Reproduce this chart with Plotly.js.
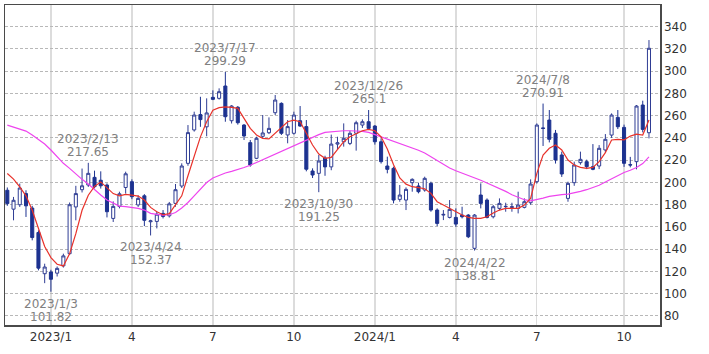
<!DOCTYPE html>
<html>
<head>
<meta charset="utf-8">
<script src="https://cdn.plot.ly/plotly-3.0.1.min.js"></script>
<style>
html,body{margin:0;padding:0;background:#fff;}
#chart{width:709px;height:354px;}
</style>
</head>
<body>
<div id="chart"></div>
<script>
// Weekly candles (week start dates)
const weeks = [
"2022-11-14","2022-11-21","2022-11-28","2022-12-05","2022-12-12","2022-12-19","2022-12-26",
"2023-01-02","2023-01-09","2023-01-16","2023-01-23","2023-01-30","2023-02-06","2023-02-13",
"2023-02-20","2023-02-27","2023-03-06","2023-03-13","2023-03-20","2023-03-27","2023-04-03",
"2023-04-10","2023-04-17","2023-04-24","2023-05-01","2023-05-08","2023-05-15","2023-05-22",
"2023-05-29","2023-06-05","2023-06-12","2023-06-19","2023-06-26","2023-07-03","2023-07-10",
"2023-07-17","2023-07-24","2023-07-31","2023-08-07","2023-08-14","2023-08-21","2023-08-28",
"2023-09-04","2023-09-11","2023-09-18","2023-09-25","2023-10-02","2023-10-09","2023-10-16",
"2023-10-23","2023-10-30","2023-11-06","2023-11-13","2023-11-20","2023-11-27","2023-12-04",
"2023-12-11","2023-12-18","2023-12-25","2024-01-01","2024-01-08","2024-01-15","2024-01-22",
"2024-01-29","2024-02-05","2024-02-12","2024-02-19","2024-02-26","2024-03-04","2024-03-11",
"2024-03-18","2024-03-25","2024-04-01","2024-04-08","2024-04-15","2024-04-22","2024-04-29",
"2024-05-06","2024-05-13","2024-05-20","2024-05-27","2024-06-03","2024-06-10","2024-06-17",
"2024-06-24","2024-07-01","2024-07-08","2024-07-15","2024-07-22","2024-07-29","2024-08-05",
"2024-08-12","2024-08-19","2024-08-26","2024-09-02","2024-09-09","2024-09-16","2024-09-23",
"2024-09-30","2024-10-07","2024-10-14","2024-10-21","2024-10-28","2024-11-04"
];
const openP = [
193,176,180,190,177,155,118,119.5,118.5,125,136,178,193.5,197.7,
204.6,202,197.7,167.7,178.5,195.5,200.7,179.8,188,164.7,165,172.2,170,181.2,
196.8,217.2,247.2,261,250,276.5,275.6,286.7,255.5,267.6,251.6,235.8,221.7,241.5,
244.7,262.7,271.1,242.7,244.2,255.5,250.2,210.3,208.2,222,214,234.5,236.6,235.1,
244.2,251.6,254.6,250.7,236.6,214.8,212.7,184.8,184.2,199.8,196.8,193.2,199.2,175.2,
170.7,168.6,168.6,170.7,170.7,140.8,188.7,184.2,169.2,176.7,178.2,177.5,176.7,177.6,
181.8,200.7,249,256.1,244.2,224.7,185.7,199.8,217.8,218.7,214.2,214.8,229.2,242.6,
258.5,249.5,216,218.7,269.6,244.7
];
const highP = [
195.5,187,199,193,179,157,127,121.5,124.5,136,182,197,212.5,217.65,
210.6,210,199.2,183,191.7,209.7,202.8,188.5,189.5,166.5,173.7,175.2,182.5,198.6,
217.2,251.6,263.6,277,275.6,282.8,284.6,299.29,269.5,268.7,252.5,238.2,241.1,260.6,
258.5,278.6,272,256.1,263.6,268.7,256.1,212.7,224.7,224,243,241.1,253.1,246.5,
255.5,256.7,265.1,251.6,239.7,223.2,214.2,197.7,195.6,203.7,199.8,205.2,200.7,176.7,
175.2,184.2,176.7,178.2,171.6,171.6,199.2,185.7,179.7,185.7,181.8,181.8,191.7,185.7,
202.8,253.1,270.91,265.1,247.2,227.7,200.7,218.7,227.7,220.5,234.5,233.6,243.5,262.1,
265.1,252,223,269.6,273.5,328
];
const lowP = [
179,166,178,169,148,121,109.5,101.82,115.5,123.5,135,166,191,196,
194.7,194.5,168.6,164.5,176.7,190,185,178,160.8,152.37,158.7,167.7,168.5,178.2,
195,215,245.7,250,241.5,274,274.5,254.6,253,252,238.2,214.2,221,239.7,
243.5,260.6,242.7,235.2,243,250,210,204,191.25,206,211,229.2,232.2,233.6,
228.6,249,247.7,234,217,208.2,181.2,182.7,175.2,191.7,190.2,191.7,173.7,160.8,
166.2,167.7,160.2,167.7,150,138.81,176.7,167.7,167.7,175,173.7,173.7,172.2,176.7,
180,199,232.8,236,217,205,182.7,197,216,212,211,212,227,240,
248,214,213.6,211.8,245,239.6
];
const closeP = [
181,184,195,179,150.5,123,124,113,122.8,134,180,190,197,208.2,
196.2,197,173.7,178.5,189.8,207.8,187.2,185.7,166,165.5,171.5,169.5,180.8,193.5,
214.8,244.8,260.6,256.5,262.5,274.7,281.6,259.1,268.7,253.7,241.8,215.7,239.7,244.5,
248.6,274.1,244.2,250.2,260.6,250.7,211.9,206.7,219.3,214,234.5,235.7,239.7,244.2,
253.7,254.6,248.6,236.6,218.7,211.8,184.2,188.7,193.8,202.8,191.7,203.7,175.2,163.2,
171.3,175.8,162.6,169.2,151.2,170.7,181.2,168.6,178.2,181.2,178.5,178.2,179.7,182.7,
198.6,251.6,248.6,238.8,220.2,207.6,199.2,215.7,220.8,214.2,211.8,230.7,238.8,260.6,
250.1,217.2,215.7,268.7,247.7,320.6
];
// 13-week moving average (red)
const ma13 = [
208,203,196,188,175,159,142.5,132.5,126.5,125,136,154,175,188.5,
196.5,200.5,195.5,190,188,189.3,188.7,187.8,184.2,177.6,173.7,171,172,180,
188,206,223,241,254.6,265,267.2,268,267.5,266.6,257.6,248.6,242.7,239.7,
239.1,244.2,250.1,254.6,256.1,254.6,244.2,233.7,225.6,221.7,222.5,229.2,236.6,241.1,
244.1,246.5,247.7,246.5,241,230,216,204,198.5,196.2,195.3,194.4,190.2,182.7,
179.7,176.7,173.7,170.7,168.6,167.7,167.7,169.2,172.5,175.2,176.7,176.7,176.7,179.7,
185.7,208.2,224.7,230.7,233.7,229.2,220.2,215.7,213.6,212.7,213.6,218.7,226.8,238.2,
238.8,238.2,241.7,243.5,242.6,256.1
];
// 26-week moving average (pink)
const ma26 = [
251.5,249.5,248,246.2,242.6,238.7,234.5,229.2,223.2,217.2,212.7,207.6,202.8,198.6,
193.2,188.7,184.2,181.2,178.8,178.2,177.6,176.7,175.2,172.2,171.3,170.7,171,173,
177,182,188,194,200,204,206.5,208.5,210,211.5,213.5,215.5,218,221,
223.5,226,228.5,231,233.5,236,238.5,241,243,245,245.7,246,246.5,246.5,
246.5,246,245,243,241,239,237.5,235.5,233,231,229,226.5,223,219.5,
216,213,210.5,208.5,206,204,202,199.5,197,195,192,189,186.5,184.5,
183.5,184.5,186,187.5,188.5,189,189.5,190.5,192,193.5,195.5,197.5,200.5,203.5,
206.5,209,211,213.5,217,223
];
// Labelled highs / lows
const markWeeks  = ["2023-01-02","2023-02-13","2023-04-24","2023-07-17","2023-10-30","2023-12-25","2024-04-22","2024-07-08"];
const markDates  = ["2023/1/3","2023/2/13","2023/4/24","2023/7/17","2023/10/30","2023/12/26","2024/4/22","2024/7/8"];
const markValues = [101.82,217.65,152.37,299.29,191.25,265.1,138.81,270.91];
const markKinds  = ["low","high","low","high","low","high","low","high"];
// Axis ticks
const xTickWeeks = ["2023-01-02","2023-04-03","2023-07-03","2023-10-02","2024-01-01","2024-04-01","2024-07-01","2024-10-07"];
const xTickText  = ["2023/1","4","7","10","2024/1","4","7","10"];
const yTicks = [80,100,120,140,160,180,200,220,240,260,280,300,320,340];

const FONT = "DejaVu Sans, Verdana, sans-serif";
const traces = [
  {
    type: "candlestick", x: weeks, open: openP, high: highP, low: lowP, close: closeP,
    increasing: {line: {color: "#2f3d94", width: 1}, fillcolor: "#ffffff"},
    decreasing: {line: {color: "#1d3290", width: 1}, fillcolor: "#1d3290"},
    whiskerwidth: 0, hoverinfo: "skip", showlegend: false
  },
  {type: "scatter", mode: "lines", x: weeks, y: ma26, line: {color: "#ee44ee", width: 1.2}, hoverinfo: "skip", showlegend: false},
  {type: "scatter", mode: "lines", x: weeks, y: ma13, line: {color: "#e8322b", width: 1.2}, hoverinfo: "skip", showlegend: false}
];

const annotations = [];
markWeeks.forEach((w, i) => {
  const hi = markKinds[i] === "high";
  const common = {x: w, y: markValues[i], xref: "x", yref: "y", showarrow: false,
                  font: {family: FONT, size: 12, color: "#808080"}, xanchor: "center", yanchor: "middle"};
  annotations.push(Object.assign({}, common, {text: markDates[i], yshift: hi ? 24 : -12}));
  annotations.push(Object.assign({}, common, {text: String(markValues[i]), yshift: hi ? 11 : -25}));
});

const layout = {
  width: 709, height: 354,
  margin: {l: 5, r: 49, t: 5, b: 29},
  paper_bgcolor: "#ffffff", plot_bgcolor: "#ffffff",
  font: {family: FONT, size: 12, color: "#333333"},
  xaxis: {
    type: "category", range: [-0.37, 104.77],
    tickmode: "array", tickvals: xTickWeeks, ticktext: xTickText,
    showgrid: true, gridcolor: "#dcdcdc", gridwidth: 1.3,
    showline: true, mirror: true, linecolor: "#4a4a4a", linewidth: 1.5,
    ticks: "", rangeslider: {visible: false}, fixedrange: true,
    tickfont: {family: FONT, size: 12, color: "#333333"}
  },
  yaxis: {
    side: "right", range: [71.9, 359.5],
    tickmode: "array", tickvals: yTicks,
    showgrid: true, gridcolor: "#b8b8b8", gridwidth: 1, griddash: "3px,2px",
    showline: true, mirror: true, linecolor: "#4a4a4a", linewidth: 1.5,
    ticks: "", zeroline: false, fixedrange: true,
    tickfont: {family: FONT, size: 12, color: "#333333"}
  },
  annotations: annotations,
  showlegend: false
};

Plotly.newPlot("chart", traces, layout, {displayModeBar: false, staticPlot: true});
</script>
</body>
</html>
